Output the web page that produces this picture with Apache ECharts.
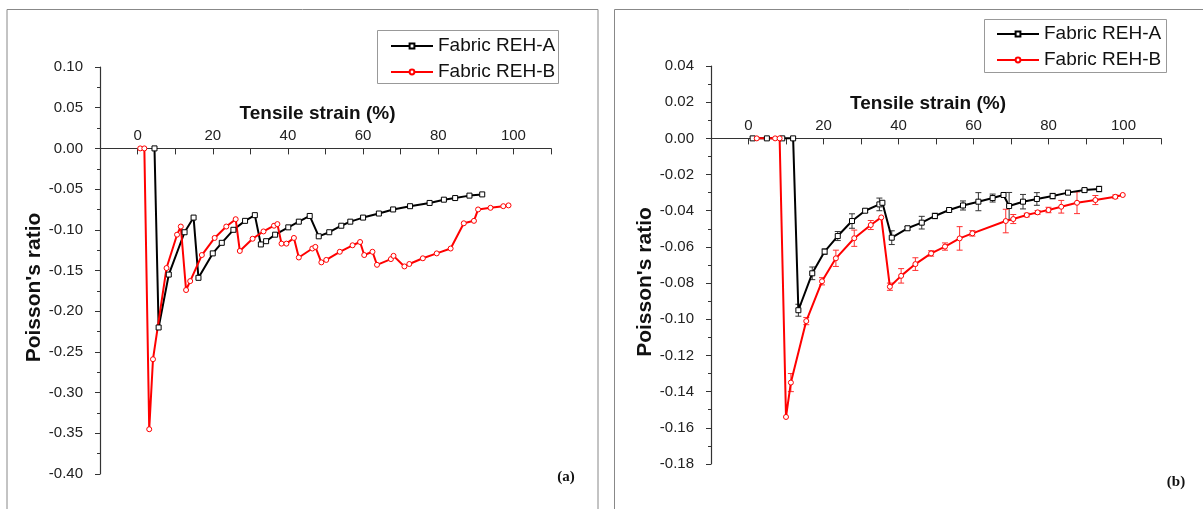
<!DOCTYPE html>
<html>
<head>
<meta charset="utf-8">
<script src="https://cdn.jsdelivr.net/npm/echarts@6/dist/echarts.min.js"></script>
<style>
html, body { margin: 0; padding: 0; background: #fff; }
#chart { width: 1203px; height: 509px; }
</style>
</head>
<body>
<div id="chart"></div>
<script>
// panel (a)
const aStrainA = [4.5, 5.6, 8.3, 12.5, 14.9, 16.2, 20, 22.4, 25.5, 28.6, 31.2, 32.8, 34.2, 36.6, 40.1, 42.9, 45.8, 48.2, 51, 54.2, 56.6, 60, 64.2, 68, 72.5, 77.7, 81.5, 84.5, 88.3, 91.7]
const aRatioA = [0, -0.22, -0.155, -0.103, -0.085, -0.159, -0.129, -0.116, -0.100, -0.089, -0.082, -0.118, -0.114, -0.106, -0.097, -0.090, -0.083, -0.108, -0.103, -0.095, -0.090, -0.085, -0.080, -0.075, -0.071, -0.067, -0.063, -0.061, -0.058, -0.0565]
const aStrainB = [0.7, 1.8, 3.1, 4.1, 7.7, 10.5, 11.5, 12.9, 14, 17.1, 20.5, 23.6, 26.1, 27.2, 30.6, 33.5, 36.3, 37.2, 38.3, 39.6, 41.6, 42.9, 46.5, 47.3, 48.9, 50.2, 53.8, 57.2, 59.2, 60.3, 62.5, 63.7, 67.4, 68.1, 71, 72.3, 75.9, 79.6, 83.3, 86.8, 89.5, 90.6, 93.9, 97.3, 98.7]
const aRatioB = [0, 0, -0.345, -0.259, -0.147, -0.106, -0.096, -0.174, -0.163, -0.131, -0.110, -0.096, -0.087, -0.126, -0.111, -0.102, -0.095, -0.093, -0.117, -0.117, -0.110, -0.134, -0.123, -0.121, -0.140, -0.137, -0.127, -0.119, -0.115, -0.131, -0.127, -0.143, -0.136, -0.132, -0.145, -0.142, -0.135, -0.129, -0.123, -0.092, -0.089, -0.075, -0.073, -0.071, -0.070]

// panel (b)
const bStrainA = [1.1, 4.9, 9, 11.9, 13.3, 17, 20.3, 23.8, 27.6, 31.1, 34.9, 35.7, 38.2, 42.4, 46.2, 49.7, 53.5, 57.2, 61.3, 65.1, 68, 69.5, 73.2, 76.9, 81.1, 85.2, 89.6, 93.5]
const bRatioA = [0, 0, 0, 0, -0.095, -0.0746, -0.0626, -0.054, -0.0457, -0.040, -0.0365, -0.0356, -0.0549, -0.0497, -0.0466, -0.0429, -0.0396, -0.0371, -0.035, -0.033, -0.0313, -0.0374, -0.035, -0.0335, -0.0319, -0.030, -0.0286, -0.028]
const bErrA = [0, 0, 0, 0, 0.0033, 0.0035, 0.0015, 0.0025, 0.004, 0.001, 0.0035, 0, 0.0038, 0.001, 0.0035, 0.0015, 0.001, 0.0025, 0.005, 0.0022, 0, 0.0075, 0.004, 0.0035, 0.0015, 0.001, 0.001, 0.0015]
const bStrainB = [2.2, 7.1, 8.3, 10, 11.3, 15.4, 19.6, 23.3, 28.2, 32.6, 35.4, 37.7, 40.7, 44.5, 48.7, 52.4, 56.3, 59.7, 68.6, 70.6, 74.2, 77.1, 80, 83.4, 87.6, 92.5, 97.8, 99.8]
const bRatioB = [0, 0, 0, -0.154, -0.135, -0.101, -0.079, -0.0663, -0.0552, -0.0479, -0.0437, -0.082, -0.076, -0.0695, -0.0636, -0.0598, -0.0553, -0.0525, -0.0457, -0.0446, -0.0424, -0.0409, -0.0396, -0.0378, -0.0356, -0.0341, -0.0323, -0.0313]
const bErrB = [0, 0, 0, 0, 0.005, 0.002, 0.002, 0.0045, 0.0045, 0.0025, 0, 0.002, 0.004, 0.0035, 0.0015, 0.002, 0.0065, 0.0015, 0.0065, 0.0025, 0.001, 0.001, 0.0015, 0.0035, 0.006, 0.0025, 0.001, 0]

const names = ['Fabric REH-A', 'Fabric REH-B']
const font = 'Liberation Sans, Arial, sans-serif'

function pairs (xs, ys, es) {
	return xs.map((x, i) => es ? [x, ys[i], es[i]] : [x, ys[i]])
}

function errorBar (params, api) {
	const x = api.value(0), y = api.value(1), e = api.value(2)
	if (!e) return null
	const top = api.coord([x, y + e]), bot = api.coord([x, y - e])
	const w = 3
	const style = { stroke: api.visual('color'), lineWidth: 1 }
	return {
		type: 'group',
		children: [
			{ type: 'line', shape: { x1: top[0], y1: top[1], x2: bot[0], y2: bot[1] }, style },
			{ type: 'line', shape: { x1: top[0] - w, y1: top[1], x2: top[0] + w, y2: top[1] }, style },
			{ type: 'line', shape: { x1: bot[0] - w, y1: bot[1], x2: bot[0] + w, y2: bot[1] }, style }
		]
	}
}

// x axis sits on the zero line: top axis pushed down into the grid
function xAxis (idx, offset) {
	return {
		type: 'value', gridIndex: idx, position: 'top', offset: offset,
		min: -10, max: 110, interval: 10,
		name: 'Tensile strain (%)', nameLocation: 'middle', nameGap: 25,
		nameTextStyle: { fontFamily: font, fontSize: 19, fontWeight: 'bold', color: '#111', padding: [0, 16, 0, 0] },
		axisLine: { onZero: false, lineStyle: { color: '#333', width: 1.2 } },
		axisTick: { inside: true, length: 6, lineStyle: { color: '#333' } },
		axisLabel: {
			margin: 5, fontFamily: font, fontSize: 15, color: '#222',
			formatter: v => (v >= 0 && v % 20 === 0) ? String(v) : ''
		},
		splitLine: { show: false }
	}
}

function yAxis (idx, min, max, step) {
	return {
		type: 'value', gridIndex: idx, min: min, max: max, interval: step,
		name: "Poisson's ratio", nameLocation: 'middle', nameGap: 55, nameRotate: 90,
		nameTextStyle: { fontFamily: font, fontSize: 21, fontWeight: 'bold', color: '#111', padding: [0, 34, 0, 0] },
		axisLine: { show: true, onZero: false, lineStyle: { color: '#333', width: 1.2 } },
		axisTick: { length: 5, lineStyle: { color: '#333' } },
		minorTick: { show: true, splitNumber: 2, length: 3, lineStyle: { color: '#333' } },
		axisLabel: {
			margin: 17, fontFamily: font, fontSize: 15, color: '#222',
			formatter: v => Math.abs(v) < 1e-9 ? '0.00' : v.toFixed(2)
		},
		splitLine: { show: false }
	}
}

function lineSeries (name, idx, data, color, symbol) {
	return {
		name: name, type: 'line', xAxisIndex: idx, yAxisIndex: idx, data: data,
		symbol: symbol, symbolSize: 5, showAllSymbol: true,
		lineStyle: { color: color, width: 2 },
		itemStyle: { color: '#fff', borderColor: color, borderWidth: 1 },
		z: 3
	}
}

function errSeries (idx, data, color) {
	return {
		type: 'custom', xAxisIndex: idx, yAxisIndex: idx, data: data,
		renderItem: errorBar, itemStyle: { color: color }, silent: true, z: 2
	}
}

function legend (left, top) {
	return {
		data: names, orient: 'vertical', left: left, top: top, padding: 0,
		itemWidth: 42, itemHeight: 6, itemGap: 6, selectedMode: false,
		textStyle: { fontFamily: font, fontSize: 19, lineHeight: 20, color: '#111' }
	}
}

let myCharts = echarts.init(document.getElementById('chart'))

myCharts.setOption({
	backgroundColor: '#fff',
	animation: false,
	grid: [
		{ left: 100, top: 67, width: 451, height: 407 },
		{ left: 711, top: 66, width: 450, height: 398 }
	],
	xAxis: [xAxis(0, -81.4), xAxis(1, -72.4)],
	yAxis: [yAxis(0, -0.4, 0.1, 0.05), yAxis(1, -0.18, 0.04, 0.02)],
	legend: [legend(390, 36), legend(996, 24)],
	series: [
		lineSeries(names[0], 0, pairs(aStrainA, aRatioA), '#000', 'rect'),
		lineSeries(names[1], 0, pairs(aStrainB, aRatioB), '#ff0000', 'circle'),
		errSeries(1, pairs(bStrainA, bRatioA, bErrA), '#333'),
		errSeries(1, pairs(bStrainB, bRatioB, bErrB), '#ff3030'),
		lineSeries(names[0], 1, pairs(bStrainA, bRatioA), '#000', 'rect'),
		lineSeries(names[1], 1, pairs(bStrainB, bRatioB), '#ff0000', 'circle')
	],
	graphic: [
		{ type: 'rect', shape: { x: 7, y: 9.5, width: 591, height: 520 }, style: { fill: 'none', stroke: '#888', lineWidth: 1 }, silent: true },
		{ type: 'rect', shape: { x: 614.5, y: 9.5, width: 600, height: 520 }, style: { fill: 'none', stroke: '#888', lineWidth: 1 }, silent: true },
		{ type: 'rect', shape: { x: 377.5, y: 30.5, width: 181, height: 53 }, style: { fill: 'none', stroke: '#999', lineWidth: 1 }, silent: true },
		{ type: 'rect', shape: { x: 984.5, y: 19.5, width: 182, height: 53 }, style: { fill: 'none', stroke: '#999', lineWidth: 1 }, silent: true },
		{ type: 'text', x: 566, y: 477, style: { text: '(a)', font: 'bold 15px Liberation Serif, Times New Roman, serif', fill: '#111', align: 'center', verticalAlign: 'middle' }, silent: true },
		{ type: 'text', x: 1176, y: 482, style: { text: '(b)', font: 'bold 15px Liberation Serif, Times New Roman, serif', fill: '#111', align: 'center', verticalAlign: 'middle' }, silent: true }
	]
})
</script>
</body>
</html>
